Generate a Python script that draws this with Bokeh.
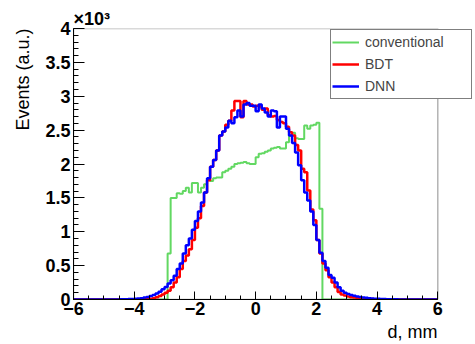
import numpy as np
from bokeh.plotting import figure
from bokeh.models import (Range1d, FixedTicker, Legend, LegendItem, Title,
                          BoxAnnotation)
from bokeh.embed import file_html
from bokeh.resources import INLINE

# ---- data: histograms with 0.1 mm bins from -6 to 6 ----
bin_lo, bin_hi, bin_w = -6.0, 6.0, 0.1

# conventional, first non-empty bin starts at -2.9
conv_start = -2.9
conv_vals = [680, 1500, 1500, 1570, 1560, 1600, 1650, 1580, 1720, 1720,
             1580, 1650, 1700, 1770, 1750, 1790, 1800, 1800, 1880, 1900,
             1930, 1960, 2000, 2010, 2020, 2030, 2010, 2000, 2000, 2100,
             2150, 2160, 2180, 2200, 2230, 2240, 2250, 2230, 2230, 2320,
             2420, 2460, 2380, 2370, 2370, 2570, 2520, 2570, 2580, 2610,
             1340]

# BDT, first non-empty bin starts at -4.0
bdt_start = -4.0
bdt_vals = [1, 2, 3, 5, 8, 12, 20, 32, 50, 75,
            100, 130, 180, 250, 330, 450, 570, 650, 740, 880,
            1060, 1200, 1380, 1580, 1760, 1960, 2060, 2200, 2420, 2480,
            2580, 2640, 2790, 2930, 2930, 2690, 2930, 2880, 2880, 2850,
            2860, 2850, 2800, 2820, 2720, 2700, 2710, 2650, 2620, 2600,
            2550, 2470, 2420, 2280, 2200, 1930, 1880, 1610, 1330, 1170,
            880, 680, 530, 430, 330, 250, 180, 110, 75, 60,
            45, 35, 28, 22, 18, 14, 10, 8, 6, 4,
            3, 2, 1]

# DNN, first non-empty bin starts at -4.5
dnn_start = -4.5
dnn_vals = [2, 3, 4, 6, 8, 10, 14, 20, 28, 38,
            50, 68, 90, 115, 150, 185, 235, 285, 350, 450,
            530, 680, 800, 900, 1030, 1160, 1300, 1430, 1580, 1790,
            1960, 2060, 2200, 2420, 2480, 2540, 2640, 2600, 2690, 2790,
            2700, 2880, 2900, 2860, 2860, 2780, 2880, 2820, 2760, 2700,
            2790, 2780, 2540, 2700, 2700, 2520, 2420, 2310, 2170, 1980,
            1760, 1580, 1460, 1300, 1100, 880, 690, 570, 470, 360,
            320, 250, 180, 130, 100, 80, 65, 55, 45, 38,
            30, 25, 20, 16, 12, 10, 8, 6, 5, 4,
            3, 2, 1]

series_names = ["conventional", "BDT", "DNN"]
series_colors = ["#62d862", "#ff0000", "#0000ff"]
series_widths = [2, 2.5, 2.5]

x_ticks = [-6, -4, -2, 0, 2, 4, 6]
x_tick_labels = ["\u22126", "\u22124", "\u22122", "0", "2", "4", "6"]
y_ticks = [0, 500, 1000, 1500, 2000, 2500, 3000, 3500, 4000]
y_tick_labels = ["0", "0.5", "1", "1.5", "2", "2.5", "3", "3.5", "4"]

# ---- build full histograms ----
nbins = int(round((bin_hi - bin_lo) / bin_w))
edges = np.round(bin_lo + bin_w * np.arange(nbins + 1), 3)


def full_hist(start, vals):
    h = np.zeros(nbins)
    i0 = int(round((start - bin_lo) / bin_w))
    h[i0:i0 + len(vals)] = vals
    return np.append(h, h[-1])


hists = [full_hist(conv_start, conv_vals),
         full_hist(bdt_start, bdt_vals),
         full_hist(dnn_start, dnn_vals)]

FONT = "Liberation Sans"

# the plotting frame spans 70..475 px; the axis box (-6..6) spans 70..437 px,
# the extra room on the right holds the part of the legend outside the box
W, H = 475, 344
left_px, box_right_px, top_px, bottom_px = 70, 437, 28, 299
px_per_unit = (box_right_px - left_px) / (bin_hi - bin_lo)
x_end = bin_hi + (W - box_right_px) / px_per_unit

p = figure(width=W, height=H, output_backend="svg", toolbar_location=None,
           x_range=Range1d(bin_lo, x_end), y_range=Range1d(0, 4000),
           min_border_left=left_px, min_border_right=0, min_border_top=top_px,
           min_border_bottom=H - bottom_px,
           title="\u00d710\u00b3", title_location="above")
p.title.align = "left"
p.title.offset = 0
p.title.standoff = 0
p.title.text_font = FONT
p.title.text_font_style = "bold"
p.title.text_font_size = "18px"
p.title.text_color = "black"

p.xgrid.visible = False
p.ygrid.visible = False
p.outline_line_color = None
p.background_fill_color = "white"
p.border_fill_color = "white"

renderers = []
for h, c, w in zip(hists, series_colors, series_widths):
    r = p.step(x=edges, y=h, mode="after", line_color=c, line_width=w)
    renderers.append(r)

# ROOT-like frame box around the axis range
p.add_layout(BoxAnnotation(left=bin_lo, right=bin_hi, bottom=0, top=4000,
                           fill_alpha=0, line_color="black", line_width=1.5))

# axes
xa = p.xaxis[0]
xa.bounds = (bin_lo, bin_hi)
xa.ticker = FixedTicker(ticks=x_ticks,
                        minor_ticks=list(np.round(np.arange(-6, 6.01, 0.5), 2)))
xa.major_label_overrides = {t: l for t, l in zip(x_ticks, x_tick_labels)}
xa.major_tick_in = 8
xa.major_tick_out = 0
xa.minor_tick_in = 4
xa.minor_tick_out = 0
xa.major_label_standoff = 2
xa.major_label_text_font = FONT
xa.major_label_text_font_style = "bold"
xa.major_label_text_font_size = "18px"
xa.major_label_text_color = "black"
xa.axis_line_color = "black"
xa.major_tick_line_color = "black"
xa.minor_tick_line_color = "black"

ya = p.yaxis[0]
ya.ticker = FixedTicker(ticks=y_ticks,
                        minor_ticks=list(range(0, 4001, 100)))
ya.major_label_overrides = {t: l for t, l in zip(y_ticks, y_tick_labels)}
ya.major_tick_in = 11
ya.major_tick_out = 0
ya.minor_tick_in = 5
ya.minor_tick_out = 0
ya.major_label_standoff = 3
ya.major_label_text_font = FONT
ya.major_label_text_font_style = "bold"
ya.major_label_text_font_size = "18px"
ya.major_label_text_color = "black"
ya.axis_line_color = "black"
ya.major_tick_line_color = "black"
ya.minor_tick_line_color = "black"

# axis titles, right-aligned like ROOT
p.add_layout(Title(text="d, mm", align="left", offset=box_right_px - left_px - 53,
                   text_font=FONT, text_font_style="normal", text_font_size="18px",
                   text_color="black", standoff=5), "below")
p.add_layout(Title(text="Events (a.u.)", align="right", text_font=FONT,
                   text_font_style="normal", text_font_size="18px",
                   text_color="black", standoff=20), "left")

legend = Legend(items=[LegendItem(label=n, renderers=[r])
                       for n, r in zip(series_names, renderers)],
                location=(257, 200), margin=0, padding=1, spacing=0,
                glyph_width=27, glyph_height=22, label_height=22,
                label_width=105, label_standoff=6,
                label_text_font=FONT, label_text_font_size="14px",
                border_line_color="black", border_line_width=1,
                background_fill_color="white", background_fill_alpha=1.0)
p.add_layout(legend)

open("out.html", "w").write(file_html(p, INLINE))
